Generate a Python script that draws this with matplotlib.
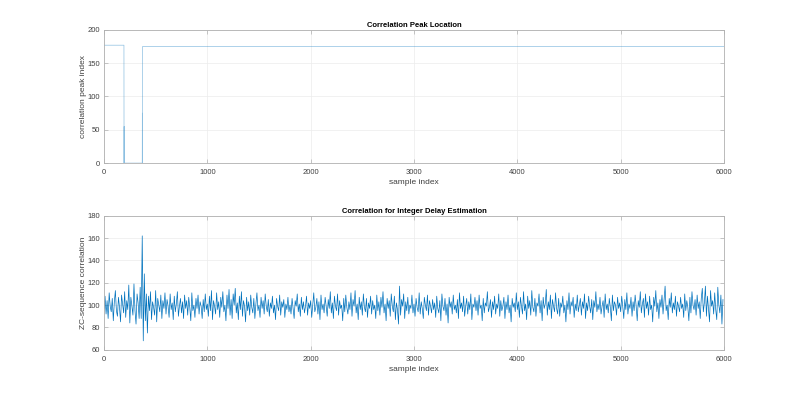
import numpy as np
import matplotlib
matplotlib.use("Agg")
import matplotlib.pyplot as plt

# Peak location (step trace)
peak_x = [0, 193, 194, 195, 196, 370, 371, 372, 373, 6000]
peak_y = [177, 177, 0, 55, 0, 0, 75, 0, 175, 175]

# ZC-sequence correlation, one value every 10 samples
corr_step = 10
corr_vals = [
    97, 108, 92, 104, 88, 111, 99, 94, 106, 86, 103, 113, 95, 90, 107, 98, 85, 109, 101, 93,
    112, 89, 104, 96, 118, 84, 107, 99, 91, 119, 95, 83, 110, 102, 88, 116, 88, 162, 68, 128,
    86, 110, 75, 108, 95, 112, 87, 103, 98, 91, 113, 85, 106, 100, 94, 109, 88, 104, 97, 111,
    92, 105, 99, 89, 110, 96, 102, 87, 108, 94, 101, 112, 90, 99, 106, 93, 103, 88, 109, 97,
    104, 91, 107, 98, 86, 111, 95, 100, 89, 106, 97, 109, 92, 103, 99, 88, 105, 94, 110, 96,
    101, 90, 108, 95, 113, 87, 104, 99, 92, 111, 96, 103, 89, 107, 98, 112, 94, 100, 86, 109,
    97, 114, 91, 105, 88, 110, 100, 115, 93, 102, 87, 108, 96, 112, 90, 104, 99, 85, 107, 95,
    103, 91, 109, 98, 93, 106, 88, 101, 111, 95, 100, 89, 107, 97, 104, 92, 110, 99, 94, 105,
    90, 102, 97, 108, 93, 100, 87, 106, 99, 95, 109, 91, 103, 98, 105, 89, 101, 96, 107, 94,
    100, 92, 106, 97, 88, 104, 99, 110, 94, 101, 90, 107, 96, 103, 93, 99, 108, 91, 102, 97,
    104, 89, 100, 111, 94, 98, 106, 92, 103, 87, 109, 96, 101, 93, 107, 99, 90, 105, 97, 112,
    93, 102, 88, 108, 99, 95, 110, 91, 104, 97, 100, 86, 106, 94, 109, 98, 92, 103, 96, 111,
    90, 105, 99, 113, 93, 101, 87, 107, 96, 103, 91, 110, 98, 94, 106, 89, 102, 97, 108, 92,
    104, 96, 100, 88, 109, 95, 103, 91, 107, 98, 112, 93, 101, 86, 106, 97, 104, 90, 110, 99,
    94, 108, 87, 102, 96, 83, 117, 91, 105, 99, 110, 88, 103, 95, 107, 92, 100, 97, 109, 93,
    101, 90, 106, 98, 94, 111, 92, 103, 97, 88, 107, 100, 95, 109, 91, 104, 99, 93, 105, 96,
    102, 89, 108, 97, 93, 104, 86, 110, 99, 95, 106, 91, 101, 84, 107, 98, 103, 92, 109, 96,
    100, 93, 105, 88, 111, 97, 102, 94, 108, 90, 99, 106, 92, 103, 96, 110, 87, 101, 98, 107,
    95, 104, 91, 109, 97, 100, 86, 106, 93, 102, 99, 112, 94, 98, 105, 89, 103, 96, 108, 92,
    101, 97, 110, 90, 104, 95, 99, 107, 88, 103, 96, 109, 93, 100, 85, 106, 98, 102, 94, 111,
    96, 103, 89, 107, 99, 92, 112, 95, 101, 87, 108, 97, 104, 91, 113, 98, 94, 106, 90, 102,
    99, 110, 93, 104, 86, 107, 97, 101, 114, 91, 103, 96, 109, 88, 105, 99, 94, 111, 97, 92,
    106, 90, 102, 98, 108, 93, 100, 85, 104, 96, 111, 92, 103, 99, 107, 89, 101, 95, 109, 94,
    100, 106, 91, 103, 97, 110, 88, 102, 95, 108, 99, 93, 105, 87, 104, 98, 112, 94, 101, 96,
    107, 92, 99, 104, 89, 110, 96, 101, 93, 106, 98, 86, 109, 95, 103, 100, 91, 107, 97, 102,
    94, 108, 99, 88, 105, 96, 111, 92, 101, 97, 107, 90, 103, 95, 109, 99, 86, 104, 98, 112,
    93, 101, 106, 89, 110, 97, 103, 91, 108, 96, 100, 85, 107, 99, 113, 94, 102, 88, 105, 98,
    109, 92, 104, 117, 95, 100, 87, 106, 98, 111, 93, 102, 96, 108, 90, 103, 99, 94, 107, 97,
    101, 89, 110, 95, 104, 98, 86, 107, 93, 112, 100, 96, 105, 91, 109, 97, 103, 88, 106, 115,
    94, 102, 117, 90, 108, 97, 85, 113, 99, 104, 92, 111, 96, 87, 116, 100, 93, 109, 83, 105,
]
corr_x = np.arange(len(corr_vals)) * corr_step

plt.rcParams['font.family'] = ['Liberation Sans', 'DejaVu Sans']

line_col = '#0072BD'
edge_col = '#b0b0b0'
text_col = '#404040'

fig = plt.figure(figsize=(8.0, 3.93), dpi=100)
ax1 = fig.add_axes([0.13, 0.585, 0.775, 0.339])
ax2 = fig.add_axes([0.13, 0.110, 0.775, 0.341])


def style(ax):
    for s in ax.spines.values():
        s.set_color(edge_col)
        s.set_linewidth(0.6)
    ax.tick_params(direction='in', length=3, width=0.5, color=edge_col,
                   labelsize=5.5, labelcolor=text_col, top=True, right=True, pad=3)
    ax.tick_params(axis='x', pad=4.5)
    ax.grid(True, color='#ececec', linewidth=0.5)
    ax.set_axisbelow(True)


ax1.plot(peak_x, peak_y, color=line_col, linewidth=0.5, alpha=0.45)
ax1.set_xlim(0, 6000)
ax1.set_ylim(0, 200)
ax1.set_yticks(np.arange(0, 201, 50))
ax1.set_xticks(np.arange(0, 6001, 1000))
ax1.set_xlabel('sample index', fontsize=6, color=text_col, labelpad=2)
ax1.set_ylabel('correlation peak index', fontsize=6, color=text_col, labelpad=0)
ax1.set_title('Correlation Peak Location', fontsize=5.5, fontweight='bold', pad=2)
style(ax1)

ax2.plot(corr_x, corr_vals, color=line_col, linewidth=0.5)
ax2.set_xlim(0, 6000)
ax2.set_ylim(60, 180)
ax2.set_yticks(np.arange(60, 181, 20))
ax2.set_xticks(np.arange(0, 6001, 1000))
ax2.set_xlabel('sample index', fontsize=6, color=text_col, labelpad=2)
ax2.set_ylabel('ZC-sequence correlation', fontsize=6, color=text_col, labelpad=0)
ax2.set_title('Correlation for Integer Delay Estimation', fontsize=5.5, fontweight='bold', pad=2)
style(ax2)

fig.savefig('out.png', dpi=100, facecolor='white')
